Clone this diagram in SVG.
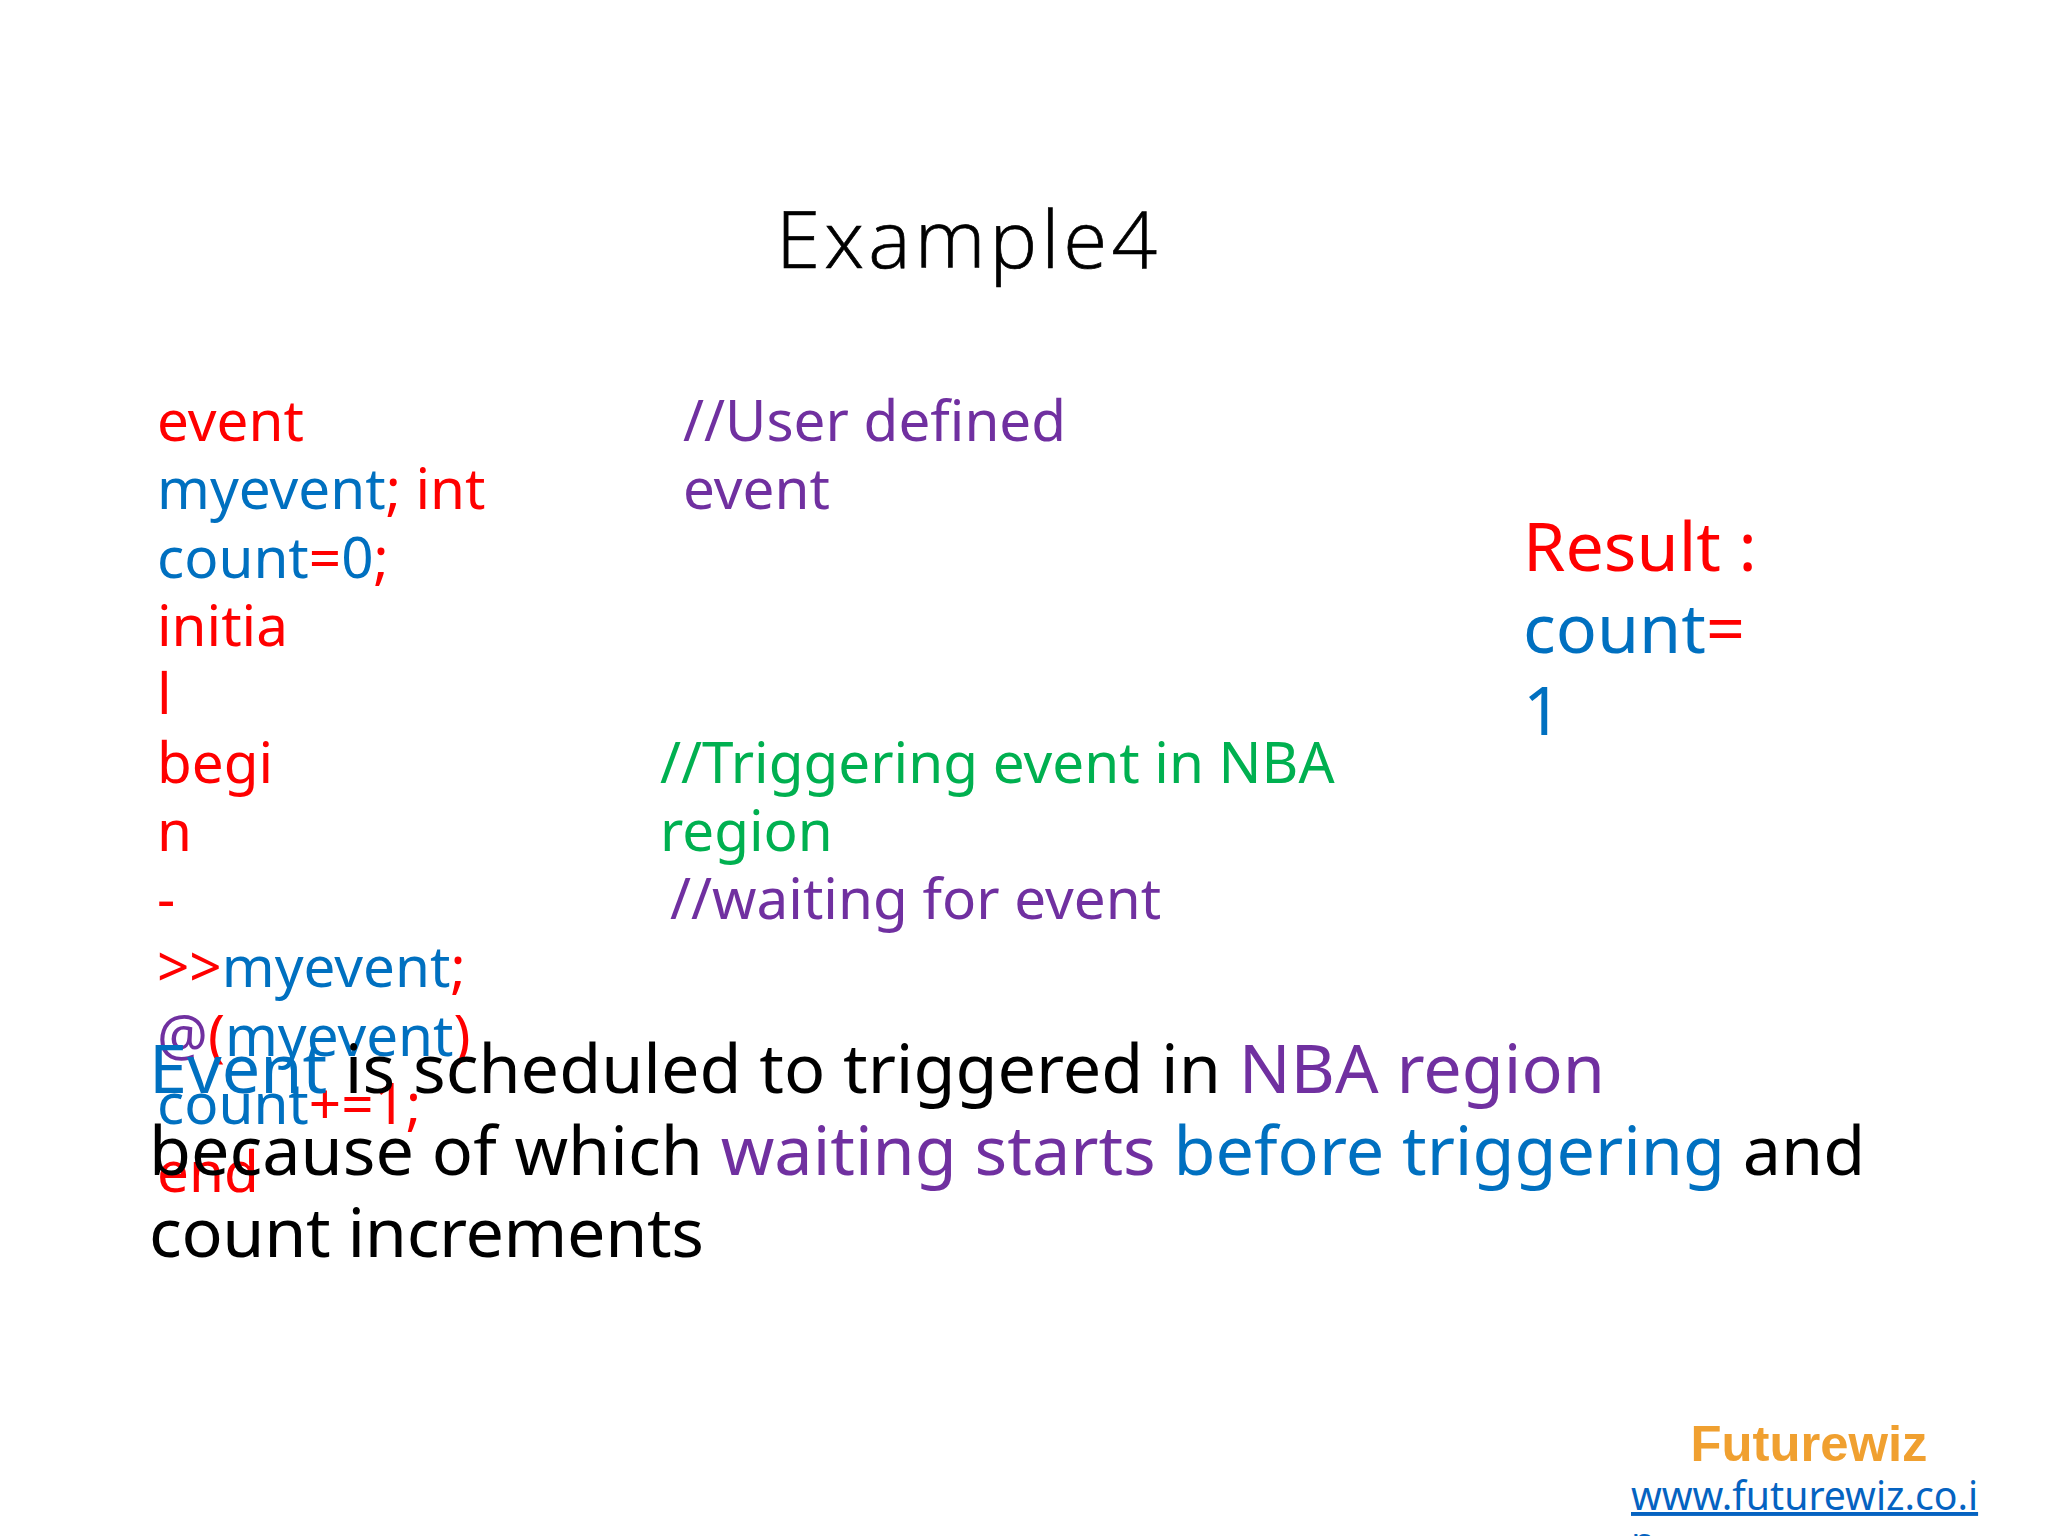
<svg xmlns="http://www.w3.org/2000/svg" width="2048" height="1536" viewBox="0 0 2048 1536">
<style>
text{font-family:"Noto Sans","Open Sans",sans-serif}
.c{font-size:56.6px}.r{font-size:68.2px}.b{font-size:68.3px}
.red{fill:#ff0000}.blue{fill:#0070c0}.pur{fill:#7030a0}.grn{fill:#00b050}.blk{fill:#000}
</style>
<rect width="2048" height="1536" fill="#fff"/>
<text x="776" y="268" font-size="80" letter-spacing="4.1" stroke="#000" stroke-width="0.7" style="font-family:'Open Sans','Noto Sans',sans-serif;font-weight:300" fill="#000">Example4</text>
<g id="code">
<text x="157" y="441" class="c red">event</text>
<text x="157" y="509" class="c blue">myevent<tspan class="red">; int</tspan></text>
<text x="157" y="578" class="c blue">count<tspan class="red">=</tspan>0<tspan class="red">;</tspan></text>
<text x="157" y="646" class="c red">initia</text>
<text x="157" y="714" class="c red">l</text>
<text x="157" y="783" class="c red">begi</text>
<text x="157" y="851" class="c red">n</text>
<text x="157" y="919" class="c red">-</text>
<text x="157" y="987" class="c red">&gt;&gt;<tspan class="blue">myevent</tspan>;</text>
<text x="157" y="1056" class="c red"><tspan class="pur">@</tspan>(<tspan class="blue">myevent</tspan>)</text>
<text x="157" y="1124" class="c blue">count<tspan class="red">+=1;</tspan></text>
<text x="157" y="1192" class="c red">end</text>
</g>
<g id="comments">
<text x="683" y="441" class="c pur">//User defined</text>
<text x="683" y="509" class="c pur">event</text>
<text x="660" y="783" class="c grn">//Triggering event in NBA</text>
<text x="660" y="851" class="c grn">region</text>
<text x="670" y="919" class="c pur">//waiting for event</text>
</g>
<g id="result">
<text x="1523" y="571" class="r red">Result :</text>
<text x="1523" y="653" class="r blue">count<tspan class="red">=</tspan></text>
<text x="1523" y="735" class="r blue">1</text>
</g>
<g id="note">
<text x="149" y="1093" class="b blue">Event<tspan class="blk"> is scheduled to triggered in </tspan><tspan class="pur">NBA region</tspan></text>
<text x="149" y="1175" class="b blk">because of which <tspan class="pur">waiting starts </tspan><tspan class="blue">before triggering</tspan> and</text>
<text x="149" y="1257" class="b blk" textLength="555" lengthAdjust="spacing">count increments</text>
</g>
<g id="footer">
<text x="1809" y="1461" text-anchor="middle" font-size="50.8" font-weight="700" style="font-family:'Liberation Sans',Arial,sans-serif" fill="#f0a030">Futurewiz</text>
<text x="1631" y="1510" font-size="39.2" fill="#0563c1" text-decoration="underline">www.futurewiz.co.i</text>
<text x="1631" y="1556" font-size="39.2" fill="#0563c1" text-decoration="underline">n</text>
</g>
</svg>
